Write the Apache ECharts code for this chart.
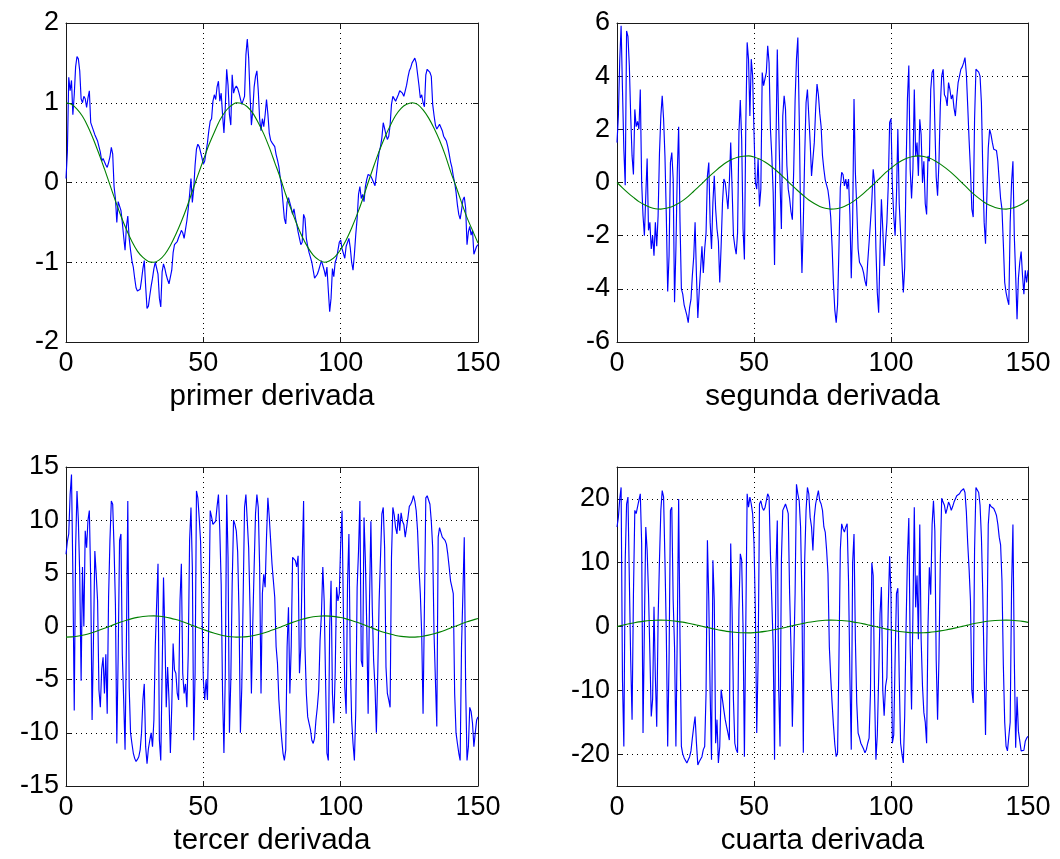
<!DOCTYPE html>
<html><head><meta charset="utf-8">
<script src="https://cdn.jsdelivr.net/npm/echarts@6/dist/echarts.min.js"></script>
<style>html,body{margin:0;padding:0;background:#fff}#c{width:1060px;height:859px}</style>
</head><body><div id="c"></div>
<script>
// ---------- data ----------
const titles = ['primer derivada', 'segunda derivada', 'tercer derivada', 'cuarta derivada'];
const xTicks = [0, 50, 100, 150];
const yTicks1 = [-2, -1, 0, 1, 2];
const yTicks2 = [-6, -4, -2, 0, 2, 4, 6];
const yTicks3 = [-15, -10, -5, 0, 5, 10, 15];
const yTicks4 = [-20, -10, 0, 10, 20];
const yLimits4 = [-25, 25];
const blueStep = 0.5;   // sample spacing of the noisy (blue) curves
const greenStep = 2;    // sample spacing of the smooth (green) curves

const blue1 = [
 0.05,0.38,1.32,1.15,1.28,0.85,1.1,1.45,1.58,1.55,
 1.4,1.05,1.0,1.08,1.05,0.94,1.06,1.15,0.75,0.7,
 0.68,0.6,0.62,0.52,0.45,0.38,0.27,0.3,0.26,0.22,
 0.19,0.25,0.32,0.44,0.36,-0.05,-0.2,-0.5,-0.24,-0.25,
 -0.35,-0.5,-0.68,-0.85,-0.55,-0.42,-0.7,-0.85,-0.98,-1.06,
 -1.2,-1.32,-1.36,-1.36,-1.34,-1.22,-1.08,-0.98,-1.3,-1.58,
 -1.55,-1.42,-1.3,-1.2,-1.08,-1.0,-0.98,-1.15,-1.45,-1.56,
 -1.12,-1.02,-1.08,-1.16,-1.22,-1.27,-1.29,-1.1,-0.88,-0.78,
 -0.77,-0.74,-0.69,-0.65,-0.6,-0.63,-0.7,-0.7,-0.48,-0.33,
 -0.15,0.05,-0.25,-0.08,0.22,0.42,0.48,0.45,0.38,0.31,
 0.23,0.27,0.38,0.5,0.65,0.77,0.8,1.02,1.1,1.04,
 1.2,1.27,1.02,1.12,0.85,0.62,0.95,1.42,1.22,0.85,
 0.72,1.35,1.12,1.18,1.21,1.18,1.12,1.05,0.98,0.98,
 1.08,1.6,1.8,1.56,1.1,0.72,0.9,1.2,1.33,1.4,
 1.15,0.8,0.65,0.8,0.7,0.85,1.04,0.86,0.62,0.53,
 0.5,0.5,0.45,0.35,0.28,0.2,0.06,-0.05,-0.25,-0.45,
 -0.52,-0.25,-0.19,-0.2,-0.32,-0.4,-0.33,-0.44,-0.52,-0.62,
 -0.7,-0.78,-0.75,-0.4,-0.45,-0.7,-0.8,-0.88,-0.94,-1.0,
 -1.1,-1.2,-1.22,-1.15,-1.1,-1.04,-0.98,-1.0,-1.1,-1.18,
 -1.06,-1.35,-1.62,-1.45,-1.08,-1.18,-1.0,-0.95,-0.85,-0.75,
 -0.72,-0.83,-0.85,-0.95,-0.8,-0.78,-0.7,-0.82,-1.0,-1.1,
 -0.9,-0.65,-0.45,-0.15,-0.05,-0.2,-0.15,-0.24,-0.05,0.04,
 0.1,0.12,0.08,0.04,0.0,-0.04,0.1,0.25,0.38,0.45,
 0.56,0.75,0.76,0.6,0.54,0.58,0.72,0.98,1.08,1.06,
 1.02,1.0,1.1,1.15,1.14,1.12,1.08,1.15,1.22,1.32,
 1.4,1.44,1.5,1.53,1.56,1.5,1.36,1.22,1.06,1.1,
 1.0,0.95,1.35,1.42,1.4,1.38,1.33,0.98,0.84,0.72,
 0.67,0.7,0.73,0.75,0.65,0.58,0.55,0.52,0.45,0.36,
 0.26,0.19,0.08,0.0,-0.12,-0.28,-0.4,-0.46,-0.35,-0.22,
 -0.18,-0.32,-0.78,-0.62,-0.55,-0.66,-0.6,-0.9,-0.85,-0.8,
 -0.78];

const blue2 = [
 1.5,2.5,4.6,5.9,3.5,1.25,-0.1,5.7,5.5,4.4,
 2.5,1.0,0.3,2.75,2.1,2.3,2.0,3.5,0.0,-1.25,
 -2.0,-0.5,0.9,-1.8,-1.5,-2.5,-2.0,-2.75,-1.5,-2.4,
 -1.25,1.1,2.5,3.26,2.4,1.0,-1.25,-4.1,-2.75,0.75,
 1.13,0.13,-4.5,-2.5,0.38,2.1,-1.5,-4.0,-4.2,-4.6,
 -4.8,-5.0,-5.27,-4.7,-4.4,-3.5,-2.8,-1.5,-3.5,-5.1,
 -4.1,-3.26,-2.4,-3.4,-2.5,-1.9,0.25,0.75,-1.5,-2.5,
 -0.75,0.25,-1.0,-1.75,-2.2,-3.76,-2.4,-0.75,0.13,0.0,
 -0.5,-1.0,0.0,1.5,-0.2,-2.0,-2.4,-2.7,-1.9,1.88,
 3.1,1.63,-1.75,-2.9,2.1,5.27,4.64,2.5,4.64,4.0,
 1.88,0.0,-0.25,0.88,-0.9,-0.25,4.14,3.64,3.9,4.14,
 5.14,4.5,2.0,1.0,-0.38,-3.1,1.25,5.0,2.26,0.0,
 -1.75,2.5,3.26,2.76,0.63,-0.25,-0.6,-1.1,-1.4,0.5,
 3.1,4.64,5.45,2.5,-1.25,-3.4,-1.5,1.0,3.0,3.5,
 2.5,1.5,0.25,0.88,1.5,2.76,3.7,3.3,2.6,2.1,
 1.0,0.5,0.1,-0.1,-0.3,-0.7,-1.3,-2.4,-3.8,-4.8,
 -5.27,-4.6,-2.5,-0.2,0.38,0.3,-0.13,0.13,-0.25,0.13,
 -1.2,-3.6,-1.5,3.14,0.38,-0.9,-2.5,-3.0,-3.0,-3.2,
 -3.4,-3.7,-3.9,-3.0,-2.26,-1.5,-0.7,0.5,0.0,-2.5,
 -4.14,-4.9,-2.5,-0.63,-1.75,-3.14,-2.26,-1.5,-0.1,2.26,
 2.4,-0.13,-1.25,-2.0,-0.5,2.0,-0.8,-1.9,-3.0,-4.14,
 -3.2,0.5,3.14,4.4,0.5,-0.6,0.5,3.5,1.0,1.5,
 0.25,2.38,1.8,0.0,0.8,-0.8,-1.2,1.0,0.8,3.5,
 4.14,4.26,2.2,0.2,-0.5,0.75,2.9,4.0,4.26,3.3,
 3.2,2.88,3.76,3.5,3.14,3.3,2.8,2.5,3.2,3.76,
 4.0,4.26,4.35,4.5,4.7,4.1,2.88,1.6,0.5,-1.0,
 -1.3,2.38,4.26,4.2,4.15,4.0,3.0,0.5,-1.5,-2.3,
 -0.5,1.3,2.0,1.8,1.5,1.25,1.3,1.2,0.8,0.1,
 -0.6,-1.0,-2.3,-3.76,-4.14,-4.4,-4.6,-1.5,0.0,0.8,
 -2.0,-3.5,-5.14,-3.6,-3.0,-2.6,-3.5,-4.2,-3.3,-3.76,
 -3.3];

const blue3 = [
 6.8,8.0,8.7,12.4,14.3,5.0,-7.9,7.4,12.75,10.0,
 4.9,-5.1,5.6,0.0,9.0,7.4,10.0,10.9,4.3,-8.8,
 -1.3,7.1,4.9,2.4,-6.0,-7.6,-4.0,-2.9,-6.3,-2.6,
 -8.2,2.75,8.1,11.8,11.5,7.4,2.0,-11.0,-2.6,8.1,
 8.7,-2.6,-6.9,-11.6,-1.3,11.8,-5.7,-10.0,-11.0,-11.9,
 -12.4,-12.7,-12.5,-12.25,-11.6,-10.0,-6.9,-5.4,-11.3,-12.9,
 -11.5,-10.7,-10.0,-11.3,-8.8,-1.9,2.1,5.9,-10.7,-12.6,
 -4.4,4.6,-0.7,-7.6,-3.8,-6.9,-11.9,-7.6,-1.6,-4.1,
 -4.4,-6.3,-6.9,2.4,5.9,-4.4,-6.3,-5.4,-7.6,-2.6,
 8.1,11.2,5.6,-10.7,-4.4,12.75,12.1,10.2,8.0,1.8,
 -5.0,-6.9,-5.0,-6.9,0.9,10.9,10.3,9.6,9.6,9.9,
 11.3,12.4,9.0,4.0,-6.3,-11.9,-4.4,12.4,6.5,-10.0,
 -5.1,4.0,10.0,9.6,9.0,7.0,1.2,-10.0,-5.7,2.75,
 11.2,12.4,12.5,7.4,1.8,-6.3,0.25,5.6,10.6,12.4,
 11.2,5.6,-6.3,3.1,4.9,3.7,8.4,12.1,10.3,8.1,
 5.9,4.3,2.75,-1.9,-3.5,-6.9,-8.8,-10.5,-11.9,-12.6,
 -11.6,-1.9,1.8,-6.3,-1.9,6.5,6.5,6.2,5.6,6.65,
 -4.4,-1.9,6.2,11.8,-1.9,-6.3,-8.5,-9.1,-9.7,-10.7,
 -11.0,-10.5,-8.8,-7.6,-6.0,-1.3,1.2,5.6,2.4,-5.0,
 -11.9,-12.6,0.0,4.3,-6.3,-9.1,-4.4,3.7,2.4,3.1,
 7.75,10.9,1.2,-5.7,-8.2,4.0,8.7,-3.2,-8.8,-11.0,
 -12.6,-7.9,3.7,7.1,11.8,-3.2,-3.8,10.25,6.2,0.0,
 -8.2,2.4,9.9,1.8,-3.2,-5.7,-10.0,-4.4,2.4,6.5,
 10.6,11.2,7.4,-3.8,-6.3,-6.9,-7.6,6.5,11.2,10.5,
 9.3,8.7,10.6,9.0,10.7,9.9,9.6,8.4,9.3,10.25,
 11.3,11.5,11.8,12.3,11.8,10.9,9.0,5.6,3.1,-0.7,
 -8.2,2.0,12.1,12.3,12.2,11.5,9.9,7.4,-0.7,-5.1,
 -9.4,8.4,9.3,9.2,8.4,8.3,8.1,7.75,6.8,5.6,
 4.3,3.7,3.1,-6.3,-10.0,-11.0,-11.9,-12.6,-1.9,3.1,
 8.4,-5.7,-12.6,-11.3,-7.6,-8.0,-9.1,-11.3,-10.0,-8.8,
 -8.5];

const blue4 = [
 15.6,17.1,20.0,21.8,-8.4,-18.8,10.4,19.2,20.3,20.5,
 -5.3,-14.6,5.0,18.2,17.7,17.5,19.8,20.8,13.0,-16.7,
 0.0,15.6,12.0,5.2,-4.2,-14.1,-11.4,3.1,-7.9,-15.7,
 1.0,10.4,18.2,21.3,20.3,10.4,-1.1,-18.8,-5.3,18.2,
 18.7,4.1,-3.2,-18.8,-1.0,20.0,-2.0,-18.8,-20.0,-20.6,
 -21.0,-21.4,-21.6,-20.4,-19.5,-17.5,-15.7,-14.1,-18.3,-21.7,
 -21.2,-20.8,-20.4,-19.3,-18.8,-10.5,13.5,4.1,-10.5,-20.9,
 10.4,4.1,-18.3,-14.6,-21.4,-18.8,-9.9,-11.5,-13.1,-14.6,
 -15.7,-16.7,-17.8,13.0,2.6,-11.5,-18.3,-19.3,-19.8,2.6,
 11.4,10.4,0.0,-20.4,0.0,20.8,18.7,20.3,19.2,17.7,
 13.0,2.6,-16.7,-5.3,19.2,19.7,18.7,18.2,18.6,18.8,
 20.8,20.3,11.4,4.1,-3.2,-20.9,8.8,16.6,-9.4,-18.8,
 10.4,18.2,18.7,19.2,18.5,17.7,5.2,-3.2,-15.7,-5.3,
 5.2,22.3,20.8,19.7,15.6,4.1,-19.8,10.4,18.2,21.8,
 20.8,17.1,15.6,11.9,17.1,19.2,20.3,21.3,19.7,19.2,
 18.2,15.6,14.8,12.0,8.3,-3.2,-8.0,-12.0,-15.5,-18.5,
 -20.4,-19.8,-5.0,12.0,16.1,15.3,14.8,15.6,16.1,7.2,
 -8.0,-19.3,10.0,14.5,-2.0,-12.0,-16.7,-17.4,-18.3,-18.6,
 -19.2,-19.8,-19.3,-18.3,-17.5,-10.5,10.0,8.0,-10.5,-20.9,
 -17.0,-8.0,2.0,6.2,-10.0,-14.0,-9.4,-8.0,3.0,11.0,
 5.0,-18.3,-17.0,-5.0,5.2,6.0,-8.0,-18.3,-20.0,-21.4,
 -14.0,0.0,10.9,17.0,-3.0,-13.0,2.0,18.7,3.0,8.0,
 -2.0,16.0,-2.0,-9.4,-13.5,-15.0,-18.3,0.0,9.3,5.0,
 16.0,19.7,15.0,-5.3,-14.6,-5.0,10.4,20.1,19.5,19.0,
 17.7,18.5,19.5,19.0,18.2,18.8,19.5,19.4,20.5,20.8,
 20.8,21.2,21.5,21.6,21.0,18.0,13.0,9.0,4.1,-10.0,
 -12.0,12.0,21.8,21.6,21.0,19.0,14.0,5.2,-7.0,-17.0,
 -2.0,16.0,19.2,18.8,18.5,18.5,18.0,17.4,16.0,14.0,
 12.8,7.2,-6.0,-15.0,-18.8,-19.5,-19.8,-15.0,6.0,16.0,
 -5.0,-19.0,-11.0,-16.4,-16.5,-19.5,-19.8,-19.4,-18.0,-17.5,
 -17.2];

const green1 = [1,0.98,0.92,0.83,0.70,0.54,0.36,0.17,-0.03,-0.23,-0.42,-0.59,-0.74,-0.86,-0.94,-0.99,-1.0,-0.97,-0.90,-0.79,-0.65,-0.49,-0.31,-0.11,0.09,0.28,0.47,0.63,0.78,0.89,0.96,1.0,0.99,0.95,0.87,0.75,0.61,0.44,0.25,0.06,-0.15,-0.34,-0.52,-0.68,-0.81,-0.91,-0.97,-1.0,-0.98,-0.93,-0.84,-0.72,-0.57,-0.40,-0.21,0.0,0.20,0.39,0.56,0.71,0.84,0.93,0.98,1.0,0.98,0.91,0.81,0.68,0.53,0.35,0.14,-0.05,-0.25,-0.44,-0.60,-0.76];
const green2 = [0,-0.20,-0.39,-0.56,-0.72,-0.84,-0.93,-0.99,-1.0,-0.97,-0.91,-0.81,-0.68,-0.52,-0.33,-0.14,0.06,0.26,0.44,0.61,0.76,0.87,0.95,0.99,1.0,0.96,0.88,0.77,0.63,0.46,0.28,0.08,-0.12,-0.31,-0.49,-0.66,-0.79,-0.90,-0.97,-1.0,-0.99,-0.94,-0.85,-0.73,-0.58,-0.41,-0.22,-0.03,0.17,0.37,0.54,0.70,0.83,0.92,0.98,1.0,0.98,0.92,0.82,0.69,0.54,0.37,0.18,-0.02,-0.22,-0.42,-0.59,-0.74,-0.86,-0.94,-0.99,-1.0,-0.97,-0.90,-0.80,-0.65];
const green3 = [-1,-0.98,-0.92,-0.83,-0.70,-0.54,-0.36,-0.17,0.03,0.23,0.42,0.59,0.74,0.86,0.94,0.99,1.0,0.97,0.90,0.79,0.65,0.49,0.31,0.11,-0.09,-0.28,-0.47,-0.63,-0.78,-0.89,-0.96,-1.0,-0.99,-0.95,-0.87,-0.75,-0.61,-0.44,-0.25,-0.06,0.15,0.34,0.52,0.68,0.81,0.91,0.97,1.0,0.98,0.93,0.84,0.72,0.57,0.40,0.21,0.0,-0.20,-0.39,-0.56,-0.71,-0.84,-0.93,-0.98,-1.0,-0.98,-0.91,-0.81,-0.68,-0.53,-0.35,-0.14,0.05,0.25,0.44,0.60,0.76];
const green4 = [0,0.20,0.39,0.56,0.72,0.84,0.93,0.99,1.0,0.97,0.91,0.81,0.68,0.52,0.33,0.14,-0.06,-0.26,-0.44,-0.61,-0.76,-0.87,-0.95,-0.99,-1.0,-0.96,-0.88,-0.77,-0.63,-0.46,-0.28,-0.08,0.12,0.31,0.49,0.66,0.79,0.90,0.97,1.0,0.99,0.94,0.85,0.73,0.58,0.41,0.22,0.03,-0.17,-0.37,-0.54,-0.70,-0.83,-0.92,-0.98,-1.0,-0.98,-0.92,-0.82,-0.69,-0.54,-0.37,-0.18,0.02,0.22,0.42,0.59,0.74,0.86,0.94,0.99,1.0,0.97,0.90,0.80,0.65];

// ---------- chart ----------
const FONT = '"Liberation Sans", Arial, Helvetica, sans-serif';
const panels = [
  {blue: blue1, green: green1, yTicks: yTicks1, lim: [yTicks1[0], yTicks1[yTicks1.length-1]]},
  {blue: blue2, green: green2, yTicks: yTicks2, lim: [yTicks2[0], yTicks2[yTicks2.length-1]]},
  {blue: blue3, green: green3, yTicks: yTicks3, lim: [yTicks3[0], yTicks3[yTicks3.length-1]]},
  {blue: blue4, green: green4, yTicks: yTicks4, lim: yLimits4}
];
const grids = [
  {left: 66, top: 23, width: 412, height: 319},
  {left: 617, top: 23, width: 411, height: 319},
  {left: 66, top: 467, width: 412, height: 319},
  {left: 617, top: 467, width: 411, height: 319}
];
const AXC = '#1a1a1a';
const splitStyle = {show: true, lineStyle: {color: '#000', width: 1, type: [1, 4]}};
const tickStyle = {show: true, inside: true, length: 5, lineStyle: {color: AXC, width: 1}};
const xAxes = [], yAxes = [], series = [];
panels.forEach((p, i) => {
  const xb = {
    gridIndex: i, type: 'value', min: xTicks[0], max: xTicks[xTicks.length-1],
    axisLine: {show: true, onZero: false, lineStyle: {color: AXC, width: 1}},
    axisTick: Object.assign({customValues: xTicks}, tickStyle),
    axisLabel: {customValues: xTicks, margin: 8, fontSize: 27, color: '#000', fontFamily: FONT},
    splitLine: splitStyle,
    name: titles[i], nameLocation: 'middle', nameGap: 40,
    nameTextStyle: {fontSize: 29.5, color: '#000', fontFamily: FONT}
  };
  const xt = {
    gridIndex: i, type: 'value', position: 'top', min: xTicks[0], max: xTicks[xTicks.length-1],
    axisLine: {show: true, onZero: false, lineStyle: {color: AXC, width: 1}},
    axisTick: Object.assign({customValues: xTicks}, tickStyle),
    axisLabel: {show: false, customValues: xTicks}, splitLine: {show: false}
  };
  const yl = {
    gridIndex: i, type: 'value', min: p.lim[0], max: p.lim[1],
    axisLine: {show: true, onZero: false, lineStyle: {color: AXC, width: 1}},
    axisTick: Object.assign({customValues: p.yTicks}, tickStyle),
    axisLabel: {customValues: p.yTicks, margin: 7, fontSize: 27, color: '#000', fontFamily: FONT},
    splitLine: splitStyle
  };
  const yr = {
    gridIndex: i, type: 'value', position: 'right', min: p.lim[0], max: p.lim[1],
    axisLine: {show: true, onZero: false, lineStyle: {color: AXC, width: 1}},
    axisTick: Object.assign({customValues: p.yTicks}, tickStyle),
    axisLabel: {show: false, customValues: p.yTicks}, splitLine: {show: false}
  };
  xAxes.push(xb, xt);
  yAxes.push(yl, yr);
  series.push({
    type: 'line', xAxisIndex: 2*i, yAxisIndex: 2*i, showSymbol: false, symbol: 'none',
    lineStyle: {color: '#0000ff', width: 1.15}, data: p.blue.map((v, k) => [k*blueStep, v]),
    silent: true, z: 2
  });
  series.push({
    type: 'line', xAxisIndex: 2*i, yAxisIndex: 2*i, showSymbol: false, symbol: 'none', smooth: 0.3,
    lineStyle: {color: '#008000', width: 1.1}, data: p.green.map((v, k) => [k*greenStep, v]),
    silent: true, z: 3
  });
});
const chart = echarts.init(document.getElementById('c'), null, {renderer: 'canvas'});
chart.setOption({
  animation: false,
  backgroundColor: '#fff',
  grid: grids,
  xAxis: xAxes,
  yAxis: yAxes,
  series: series
});
</script></body></html>
